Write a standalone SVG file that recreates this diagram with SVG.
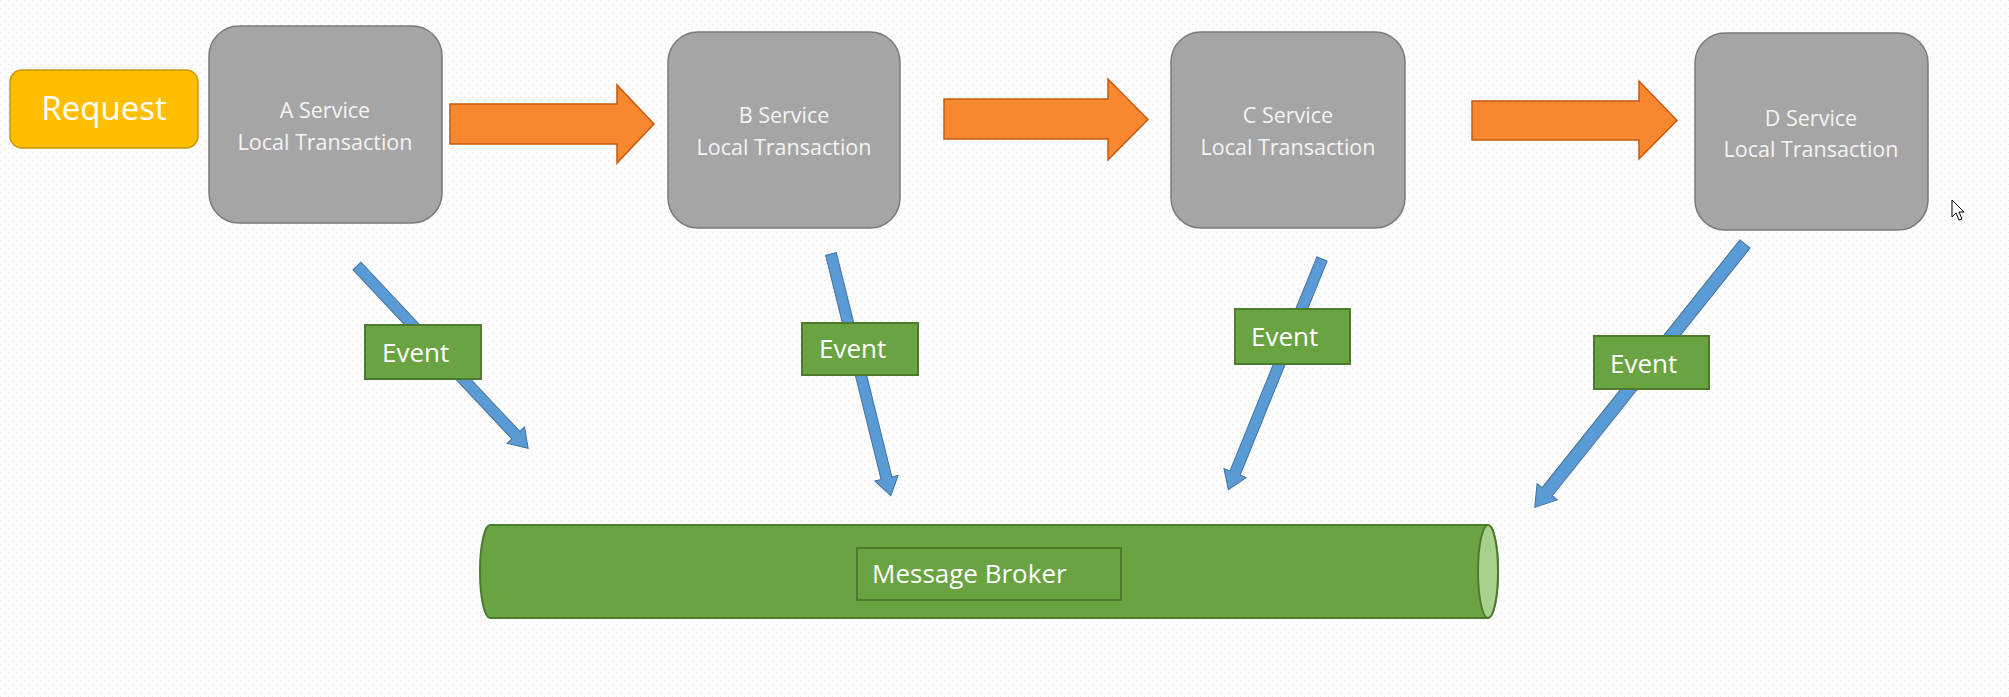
<svg xmlns="http://www.w3.org/2000/svg" width="2009" height="697" viewBox="0 0 2009 697">
  <defs>
    <pattern id="dots" width="8" height="8" patternUnits="userSpaceOnUse">
      <rect x="0" y="0" width="1" height="1" fill="#E6E6E6"/>
      <rect x="4" y="4" width="1" height="1" fill="#E6E6E6"/>
    </pattern>
    <style>
      .svc { fill: #A5A5A5; stroke: #7A7A7A; stroke-width: 1.5; }
      .svct { font-family: "Open Sans", "Liberation Sans", sans-serif; font-size: 21.5px; fill: #F4F4F4; text-anchor: middle; }
      .orange { fill: #F7882F; stroke: #C55A11; stroke-width: 1.5; }
      .blue { fill: #5B9BD5; stroke: #41719C; stroke-width: 1; }
      .evt { fill: #6AA342; stroke: #4E7A2E; stroke-width: 2; }
      .evtt { font-family: "Open Sans", "Liberation Sans", sans-serif; font-size: 26px; fill: #FFFFFF; }
    </style>
  </defs>
  <rect width="2009" height="697" fill="#FCFCFC"/>
  <rect width="2009" height="697" fill="url(#dots)"/>

  <g id="connectors">
    <polygon class="orange" points="450,104 617,104 617,85 654,124 617,163 617,144 450,144"/>
    <polygon class="orange" points="944,99 1108,99 1108,79 1148,119.5 1108,160 1108,139 944,139"/>
    <polygon class="orange" points="1472,101 1639,101 1639,81 1677,120.5 1639,159 1639,140 1472,140"/>
    <polygon class="blue" transform="translate(357,266) rotate(46.8)" points="0,-5.5 232,-5.5 232,-12 250,0 232,12 232,5.5 0,5.5"/>
    <polygon class="blue" transform="translate(831,254) rotate(76.1)" points="0,-5.5 231,-5.5 231,-12 249,0 231,12 231,5.5 0,5.5"/>
    <polygon class="blue" transform="translate(1322,259) rotate(112.1)" points="0,-5.5 231,-5.5 231,-12 249,0 231,12 231,5.5 0,5.5"/>
    <polygon class="blue" transform="translate(1745,244) rotate(128.6)" points="0,-6.5 317,-6.5 317,-13 337,0 317,13 317,6.5 0,6.5"/>
  </g>

  <g id="request">
    <rect x="10" y="70" width="188" height="78" rx="12" fill="#FFBF00" stroke="#C9960A" stroke-width="1.5"/>
    <text x="104" y="120" font-family="'Open Sans', 'Liberation Sans', sans-serif" font-size="33" fill="#FFFFFF" text-anchor="middle">Request</text>
  </g>

  <g id="serviceA">
    <rect class="svc" x="209" y="26" width="233" height="197" rx="30"/>
    <text class="svct" x="325" y="118">A Service</text>
    <text class="svct" x="325" y="150">Local Transaction</text>
  </g>
  <g id="serviceB">
    <rect class="svc" x="668" y="32" width="232" height="196" rx="30"/>
    <text class="svct" x="784" y="123">B Service</text>
    <text class="svct" x="784" y="155">Local Transaction</text>
  </g>
  <g id="serviceC">
    <rect class="svc" x="1171" y="32" width="234" height="196" rx="30"/>
    <text class="svct" x="1288" y="123">C Service</text>
    <text class="svct" x="1288" y="155">Local Transaction</text>
  </g>
  <g id="serviceD">
    <rect class="svc" x="1695" y="33" width="233" height="197" rx="30"/>
    <text class="svct" x="1811" y="126">D Service</text>
    <text class="svct" x="1811" y="157">Local Transaction</text>
  </g>

  <g id="eventA">
    <rect class="evt" x="365" y="325" width="116" height="54"/>
    <text class="evtt" x="382" y="362">Event</text>
  </g>
  <g id="eventB">
    <rect class="evt" x="802" y="323" width="116" height="52"/>
    <text class="evtt" x="819" y="358">Event</text>
  </g>
  <g id="eventC">
    <rect class="evt" x="1235" y="309" width="115" height="55"/>
    <text class="evtt" x="1251" y="346">Event</text>
  </g>
  <g id="eventD">
    <rect class="evt" x="1594" y="336" width="115" height="53"/>
    <text class="evtt" x="1610" y="373">Event</text>
  </g>

  <g id="broker">
    <path d="M 490,525 L 1488,525 A 10,46.5 0 0 1 1488,618 L 490,618 A 10,46.5 0 0 1 490,525 Z" fill="#6AA342" stroke="#4E7A2E" stroke-width="2"/>
    <ellipse cx="1488" cy="571.5" rx="10" ry="46.5" fill="#A9D18E" stroke="#4E7A2E" stroke-width="2"/>
    <rect x="857" y="548" width="264" height="52" fill="#6AA342" stroke="#4E7A2E" stroke-width="2"/>
    <text x="872" y="583" font-family="'Open Sans', 'Liberation Sans', sans-serif" font-size="26" fill="#FFFFFF">Message Broker</text>
  </g>

  <path d="M1952,200 L1952,217 L1956,213 L1959,220 L1962,219 L1959,212 L1964,212 Z" fill="#FFFFFF" stroke="#000000" stroke-width="1"/>
</svg>
